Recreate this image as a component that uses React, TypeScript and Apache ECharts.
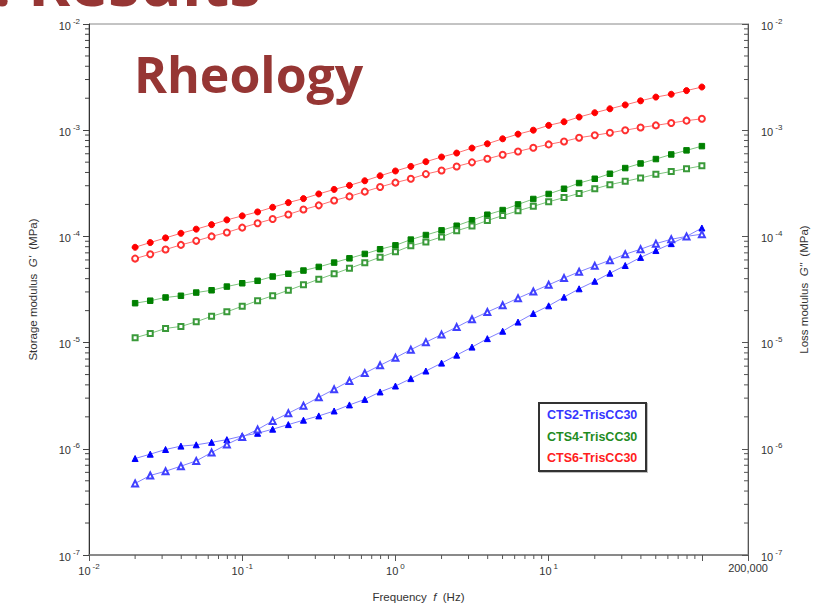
import React, { useEffect, useRef } from 'react';
import * as echarts from 'echarts';

// Frequency f (Hz), 10 points per decade
const frequency = [
  0.02, 0.0251, 0.0316, 0.0398, 0.0501, 0.0631, 0.0794,
  0.1, 0.126, 0.158, 0.2, 0.251, 0.316, 0.398, 0.501, 0.631, 0.794,
  1, 1.26, 1.58, 2, 2.51, 3.16, 3.98, 5.01, 6.31, 7.94,
  10, 12.6, 15.8, 20, 25.1, 31.6, 39.8, 50.1, 63.1, 79.4, 100,
];

// CTS6-TrisCC30
const cts6Storage = [
  7.9e-5, 8.75e-5, 9.68e-5, 1.07e-4, 1.17e-4, 1.29e-4, 1.43e-4, 1.56e-4, 1.7e-4, 1.88e-4,
  2.08e-4, 2.27e-4, 2.51e-4, 2.77e-4, 3.02e-4, 3.34e-4, 3.72e-4, 4.13e-4, 4.56e-4, 5.05e-4,
  5.59e-4, 6.09e-4, 6.79e-4, 7.45e-4, 8.3e-4, 9.18e-4, 1.0e-3, 1.11e-3, 1.2e-3, 1.33e-3,
  1.46e-3, 1.59e-3, 1.73e-3, 1.89e-3, 2.05e-3, 2.18e-3, 2.36e-3, 2.55e-3,
];
const cts6Loss = [
  6.18e-5, 6.79e-5, 7.52e-5, 8.32e-5, 9.08e-5, 1.0e-4, 1.09e-4, 1.21e-4, 1.33e-4, 1.46e-4,
  1.61e-4, 1.79e-4, 1.96e-4, 2.18e-4, 2.38e-4, 2.64e-4, 2.92e-4, 3.21e-4, 3.49e-4, 3.86e-4,
  4.18e-4, 4.56e-4, 4.98e-4, 5.38e-4, 5.87e-4, 6.31e-4, 6.84e-4, 7.35e-4, 7.84e-4, 8.5e-4,
  8.95e-4, 9.45e-4, 1.0e-3, 1.06e-3, 1.11e-3, 1.17e-3, 1.23e-3, 1.28e-3,
];

// CTS4-TrisCC30
const cts4Storage = [
  2.35e-5, 2.48e-5, 2.66e-5, 2.76e-5, 2.96e-5, 3.11e-5, 3.37e-5, 3.62e-5, 3.82e-5, 4.19e-5,
  4.45e-5, 4.77e-5, 5.16e-5, 5.67e-5, 6.22e-5, 6.84e-5, 7.57e-5, 8.24e-5, 9.33e-5, 1.03e-4,
  1.14e-4, 1.26e-4, 1.42e-4, 1.6e-4, 1.77e-4, 2.0e-4, 2.25e-4, 2.51e-4, 2.81e-4, 3.18e-4,
  3.49e-4, 3.89e-4, 4.4e-4, 4.86e-4, 5.35e-4, 5.91e-4, 6.46e-4, 7.08e-4,
];
const cts4Loss = [
  1.11e-5, 1.22e-5, 1.36e-5, 1.42e-5, 1.57e-5, 1.77e-5, 1.95e-5, 2.2e-5, 2.48e-5, 2.76e-5,
  3.11e-5, 3.5e-5, 3.95e-5, 4.44e-5, 5.01e-5, 5.64e-5, 6.37e-5, 7.15e-5, 8.15e-5, 8.87e-5,
  9.88e-5, 1.13e-4, 1.25e-4, 1.41e-4, 1.57e-4, 1.74e-4, 1.92e-4, 2.12e-4, 2.32e-4, 2.54e-4,
  2.81e-4, 3.07e-4, 3.3e-4, 3.55e-4, 3.84e-4, 4.09e-4, 4.34e-4, 4.62e-4,
];

// CTS2-TrisCC30
const cts2Storage = [
  8.1e-7, 8.9e-7, 9.85e-7, 1.06e-6, 1.09e-6, 1.15e-6, 1.22e-6, 1.32e-6, 1.4e-6, 1.53e-6,
  1.69e-6, 1.86e-6, 2.04e-6, 2.27e-6, 2.59e-6, 2.92e-6, 3.43e-6, 3.9e-6, 4.58e-6, 5.4e-6,
  6.41e-6, 7.62e-6, 9.07e-6, 1.09e-5, 1.28e-5, 1.56e-5, 1.88e-5, 2.22e-5, 2.68e-5, 3.21e-5,
  3.78e-5, 4.5e-5, 5.32e-5, 6.34e-5, 7.36e-5, 8.55e-5, 1.0e-4, 1.2e-4,
];
const cts2Loss = [
  4.72e-7, 5.61e-7, 6.15e-7, 6.86e-7, 7.69e-7, 9.22e-7, 1.1e-6, 1.29e-6, 1.52e-6, 1.83e-6,
  2.16e-6, 2.55e-6, 3.05e-6, 3.63e-6, 4.35e-6, 5.16e-6, 6.11e-6, 7.21e-6, 8.57e-6, 1.01e-5,
  1.19e-5, 1.4e-5, 1.66e-5, 1.94e-5, 2.25e-5, 2.62e-5, 3.03e-5, 3.5e-5, 4.05e-5, 4.64e-5,
  5.28e-5, 5.96e-5, 6.79e-5, 7.57e-5, 8.55e-5, 9.39e-5, 1.0e-4, 1.05e-4,
];

const legendNames = ['CTS2-TrisCC30', 'CTS4-TrisCC30', 'CTS6-TrisCC30'];
const xMin = 0.01;
const xMax = 200;
const yMin = 1e-7;
const yMax = 1e-2;
const xEndLabel = '200,000';

// minor tick positions
const minorMultipliers = [2, 3, 4, 5, 6, 7, 8, 9];
const xMinorDecades = [0.01, 0.1, 1, 10];
const yMinorDecades = [1e-7, 1e-6, 1e-5, 1e-4, 1e-3];

const FONT = '"Liberation Sans", Arial, sans-serif';

function pairs(ys: number[]) {
  return frequency.map((f, i) => [f, ys[i]]);
}

function expLabel(v: number) {
  const e = Math.round(Math.log10(v));
  return '{b|10}{s|' + e + '}';
}

export default function App() {
  const ref = useRef<HTMLDivElement>(null);
  useEffect(() => {
    if (!ref.current) return;
    const chart = echarts.init(ref.current, undefined, { renderer: 'svg' });

    const labelRich = {
      b: { fontSize: 11, fontFamily: FONT, color: '#333', lineHeight: 14, verticalAlign: 'bottom' },
      s: { fontSize: 8, fontFamily: FONT, color: '#333', verticalAlign: 'top', lineHeight: 8, padding: [0, 0, 0, 2] },
    };

    const mk = (
      name: string,
      data: number[],
      symbol: string,
      size: number,
      color: string,
      lineColor: string,
      yIdx: number,
    ) => ({
      type: 'line',
      name,
      data: pairs(data),
      yAxisIndex: yIdx,
      symbol,
      symbolSize: size,
      showAllSymbol: true,
      lineStyle: { color: lineColor, width: 1 },
      itemStyle: { color, borderColor: color, borderWidth: 1 },
      z: 3,
    });

    const nameStyle = {
      fontFamily: FONT, fontSize: 11.5, color: '#333',
      rich: { i: { fontFamily: FONT, fontSize: 11.5, fontStyle: 'italic', color: '#333' } },
    };

    const baseGraphics: any[] = [
      {
        type: 'text',
        x: 261,
        y: -19,
        style: {
          text: '5. Results',
          fontFamily: '"Open Sans", sans-serif',
          fontWeight: 'bold',
          fontSize: 64,
          lineHeight: 46,
          fill: '#963634',
          align: 'right',
          verticalAlign: 'middle',
        },
        z: 10,
      },
      {
        type: 'text',
        x: 134,
        y: 74,
        style: {
          text: 'Rheology',
          fontFamily: '"Open Sans", sans-serif',
          fontWeight: 'bold',
          fontSize: 50,
          fill: '#963634',
          align: 'left',
          verticalAlign: 'middle',
        },
        z: 10,
      },
      {
        type: 'rect',
        shape: { x: 539, y: 403, width: 107, height: 68 },
        style: { fill: '#ffffff', stroke: '#333', lineWidth: 2, shadowColor: 'rgba(0,0,0,0.25)', shadowOffsetX: 1, shadowOffsetY: 1, shadowBlur: 1 },
        z: 10,
      },
      {
        type: 'text', x: 547, y: 415,
        style: { text: legendNames[0], fontFamily: FONT, fontWeight: 'bold', fontSize: 12.5, fill: '#3535ff', verticalAlign: 'middle' },
        z: 11,
      },
      {
        type: 'text', x: 547, y: 437,
        style: { text: legendNames[1], fontFamily: FONT, fontWeight: 'bold', fontSize: 12.5, fill: '#1f8c1f', verticalAlign: 'middle' },
        z: 11,
      },
      {
        type: 'text', x: 547, y: 458,
        style: { text: legendNames[2], fontFamily: FONT, fontWeight: 'bold', fontSize: 12.5, fill: '#ff2020', verticalAlign: 'middle' },
        z: 11,
      },
    ];

    const option: any = {
      animation: false,
      backgroundColor: '#ffffff',
      grid: { left: 89, right: 66, top: 24, bottom: 52, show: true, borderColor: '#888', borderWidth: 1 },
      xAxis: {
        type: 'log',
        logBase: 10,
        min: xMin,
        max: xMax,
        name: 'Frequency  {i|f}  (Hz)',
        nameLocation: 'middle',
        nameGap: 36,
        nameTextStyle: nameStyle,
        axisLine: { show: true, lineStyle: { color: '#777', width: 1.5 } },
        axisTick: { show: true, inside: false, length: 6, lineStyle: { color: '#555', width: 1 } },
        splitLine: { show: false },
        minorTick: { show: false },
        axisLabel: {
          margin: 7,
          fontFamily: FONT, fontSize: 11, color: '#333',
          showMaxLabel: true, showMinLabel: true,
          formatter: (v: number) => {
            if (Math.abs(v - xMax) < 1) return xEndLabel;
            if (Math.abs(v - 100) < 1) return '';
            return expLabel(v);
          },
          rich: labelRich,
        },
      },
      yAxis: [
        {
          type: 'log',
          logBase: 10,
          min: yMin,
          max: yMax,
          position: 'left',
          name: "Storage modulus  {i|G'}  (MPa)",
          nameLocation: 'middle',
          nameGap: 50,
          nameTextStyle: nameStyle,
          axisLine: { show: true, lineStyle: { color: '#333', width: 1 } },
          axisTick: { show: true, inside: false, length: 6, lineStyle: { color: '#444', width: 1 } },
          splitLine: { show: false },
          axisLabel: { margin: 9, fontFamily: FONT, fontSize: 11, color: '#333', formatter: expLabel, rich: labelRich },
        },
        {
          type: 'log',
          logBase: 10,
          min: yMin,
          max: yMax,
          position: 'right',
          name: "Loss modulus  {i|G''}  (MPa)",
          nameLocation: 'middle',
          nameGap: 50,
          nameTextStyle: nameStyle,
          axisLine: { show: true, lineStyle: { color: '#555', width: 1 } },
          axisTick: { show: true, inside: true, length: 6, lineStyle: { color: '#555', width: 1 } },
          splitLine: { show: false },
          axisLabel: { margin: 13, fontFamily: FONT, fontSize: 11, color: '#333', formatter: expLabel, rich: labelRich },
        },
      ],
      series: [
        mk(legendNames[2] + " G'", cts6Storage, 'circle', 6, '#ff0000', '#ff7070', 0),
        mk(legendNames[2] + " G''", cts6Loss, 'emptyCircle', 6, '#ff3030', '#ff7070', 1),
        mk(legendNames[1] + " G'", cts4Storage, 'rect', 5.5, '#008000', '#7cc47c', 0),
        mk(legendNames[1] + " G''", cts4Loss, 'emptyRect', 5, '#3a9a3a', '#7cc47c', 1),
        mk(legendNames[0] + " G'", cts2Storage, 'triangle', 6, '#0000ff', '#8080ff', 0),
        mk(legendNames[0] + " G''", cts2Loss, 'emptyTriangle', 6, '#4040ff', '#8080ff', 1),
      ],
      graphic: baseGraphics,
    };

    chart.setOption(option);

    // minor ticks, positioned through the chart's own log scales
    const tickLines: any[] = [];
    const conv = (x: number, y: number) =>
      chart.convertToPixel({ xAxisIndex: 0, yAxisIndex: 0 }, [x, y]) as number[];
    xMinorDecades.forEach((d) =>
      minorMultipliers.forEach((m) => {
        const p = conv(d * m, yMin);
        tickLines.push({
          type: 'line', silent: true, z: 5,
          shape: { x1: p[0], y1: p[1], x2: p[0], y2: p[1] + 4 },
          style: { stroke: '#555', lineWidth: 1 },
        });
      }),
    );
    yMinorDecades.forEach((d) =>
      minorMultipliers.forEach((m) => {
        const l = conv(xMin, d * m);
        const r = conv(xMax, d * m);
        tickLines.push({
          type: 'line', silent: true, z: 5,
          shape: { x1: l[0] - 4, y1: l[1], x2: l[0], y2: l[1] },
          style: { stroke: '#444', lineWidth: 1 },
        });
        tickLines.push({
          type: 'line', silent: true, z: 5,
          shape: { x1: r[0] - 4, y1: r[1], x2: r[0], y2: r[1] },
          style: { stroke: '#555', lineWidth: 1 },
        });
      }),
    );
    chart.setOption({ graphic: baseGraphics.concat(tickLines) });

    return () => chart.dispose();
  }, []);

  return (
    <div
      ref={ref}
      style={{ position: 'fixed', left: 0, top: 0, width: 818, height: 608, background: '#fff' }}
    />
  );
}
